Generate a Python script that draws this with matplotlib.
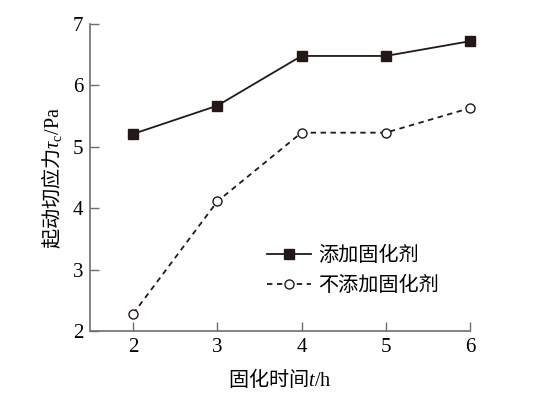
import matplotlib
matplotlib.use("Agg")
import matplotlib.pyplot as plt

plt.rcParams['font.family'] = ['Liberation Serif', 'Noto Sans CJK SC']
plt.rcParams['mathtext.fontset'] = 'custom'
plt.rcParams['mathtext.rm'] = 'Liberation Serif'
plt.rcParams['mathtext.it'] = 'Liberation Serif:italic'
plt.rcParams['mathtext.bf'] = 'Liberation Serif:bold'

t_hours = [2, 3, 4, 5, 6]
with_agent = [5.21, 5.67, 6.48, 6.48, 6.72]
without_agent = [2.28, 4.11, 5.23, 5.23, 5.63]
label_with = "添加固化剂"
label_without = "不添加固化剂"

ink = "#231815"
spine_col = "#6e6e6e"

fig = plt.figure(figsize=(5.37, 3.94), dpi=100)
ax = fig.add_axes([0.168, 0.160, 0.707, 0.779])

ax.plot(t_hours, with_agent, color=ink, lw=1.3, marker="s", ms=6.5,
        mfc=ink, mec=ink, label=label_with, clip_on=False)
ax.plot(t_hours, without_agent, color=ink, lw=1.3, ls=(0, (3, 2.5)), marker="o", ms=6.5,
        mfc="white", mec=ink, mew=1.0, label=label_without, clip_on=False)

ax.set_xlim(1.49, 6.0)
ax.set_ylim(2, 7)
ax.set_xticks([2, 3, 4, 5, 6])
ax.set_yticks([2, 3, 4, 5, 6, 7])

for s in ["top", "right"]:
    ax.spines[s].set_visible(False)
for s in ["left", "bottom"]:
    ax.spines[s].set_color(spine_col)
    ax.spines[s].set_linewidth(1.2)

ax.tick_params(direction="in", length=6.5, width=1.0, color=spine_col,
               labelsize=15, pad=5, labelcolor="black")

ax.set_xlabel("固化时间$\\mathit{t}\\mathrm{/h}$", fontsize=14.5,
              family="Noto Sans CJK SC", labelpad=7)
ax.set_ylabel("起动切应力$\\mathit{\\tau}_{\\mathrm{c}}\\mathrm{/Pa}$", fontsize=14.5,
              family="Noto Sans CJK SC", labelpad=6)

leg = ax.legend(loc="upper left", bbox_to_anchor=(0.466, 0.28), frameon=False,
                borderpad=0, borderaxespad=0,
                prop={"family": "Noto Sans CJK SC", "size": 14.5},
                handlelength=2.2, handletextpad=0.35, labelspacing=0.45)

fig.savefig("out.png", dpi=100)
